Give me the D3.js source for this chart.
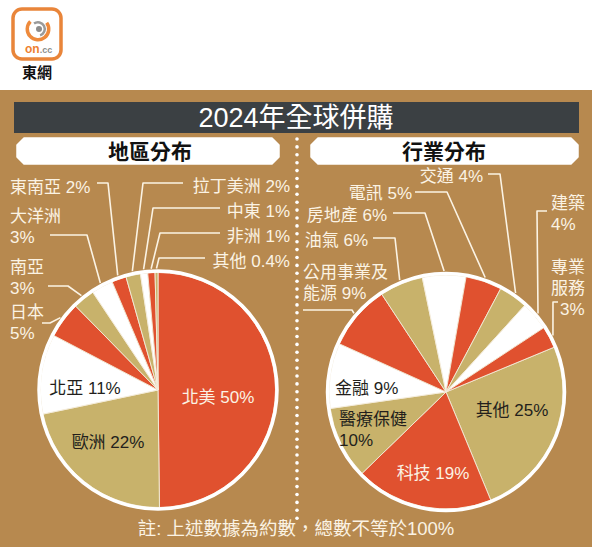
<!DOCTYPE html>
<html><head><meta charset="utf-8">
<script src="https://cdn.jsdelivr.net/npm/d3@7"></script>
<style>
html,body{margin:0;padding:0;background:#fff;}
svg{display:block;font-family:"Liberation Sans","Noto Sans CJK TC",sans-serif;}
</style></head>
<body>
<svg id="c" width="609" height="547"></svg>
<script>
// ---------------- data ----------------
const titleText = "2024年全球併購";
const leftTitle = "地區分布";
const rightTitle = "行業分布";
const noteText = "註: 上述數據為約數，總數不等於100%";

const regionCats = ["北美","歐洲","北亞","日本","南亞","大洋洲","東南亞","拉丁美洲","中東","非洲","其他"];
const regionVals = [50,22,11,5,3,3,2,2,1,1,0.4];

const sectorCats = ["其他","科技","醫療保健","金融","公用事業及能源","油氣","房地產","電訊","交通","建築","專業服務"];
const sectorVals = [25,19,10,9,9,6,6,5,4,4,3];

// ---------------- styles ----------------
const RED = "#E0512F", TAN = "#C8B26B", WHITE = "#FFFFFF";
const BG = "#B7894F", BAR = "#3B4043", CREAM = "#FBF3E4", DARK = "#231F1C";
const regionColors = [RED,TAN,WHITE,RED,TAN,WHITE,RED,TAN,WHITE,RED,TAN];
const sectorColors = [TAN,RED,TAN,WHITE,RED,TAN,WHITE,RED,TAN,WHITE,RED];

// ---------------- layout ----------------
const L = {cx:158, cy:390, r:117.5, start:0};
const R = {cx:446, cy:392, r:117, start:3*Math.PI/8};

// inside labels: [index, x, y, anchor, fill, lines]
const regionInside = [
  {i:0, x:218, y:397, anchor:"middle", fill:CREAM, lines:(n,v)=>[n+" "+v+"%"]},
  {i:1, x:108, y:442, anchor:"middle", fill:DARK, lines:(n,v)=>[n+" "+v+"%"]},
  {i:2, x:85,  y:388, anchor:"middle", fill:DARK, lines:(n,v)=>[n+" "+v+"%"]}
];
const sectorInside = [
  {i:0, x:512, y:410, anchor:"middle", fill:DARK, lines:(n,v)=>[n+" "+v+"%"]},
  {i:1, x:433, y:473, anchor:"middle", fill:CREAM, lines:(n,v)=>[n+" "+v+"%"]},
  {i:2, x:339, y:419, anchor:"start", fill:DARK, lines:(n,v)=>[n, v+"%"]},
  {i:3, x:335, y:388, anchor:"start", fill:DARK, lines:(n,v)=>[n+" "+v+"%"]}
];
// outside labels: text pos (center y of first line), leader start, elbow x
const regionOutside = [
  {i:3,  x:10,  y:312, anchor:"start", lines:(n,v)=>[n, v+"%"], lx:42,  ly:323, ex:50},
  {i:4,  x:10,  y:267, anchor:"start", lines:(n,v)=>[n, v+"%"], lx:48,  ly:286, ex:68},
  {i:5,  x:10,  y:216, anchor:"start", lines:(n,v)=>[n, v+"%"], lx:50,  ly:235, ex:87},
  {i:6,  x:10,  y:187, anchor:"start", lines:(n,v)=>[n+" "+v+"%"], lx:97, ly:183, ex:108},
  {i:7,  x:290, y:186, anchor:"end",   lines:(n,v)=>[n+" "+v+"%"], lx:183, ly:183, ex:143},
  {i:8,  x:290, y:211, anchor:"end",   lines:(n,v)=>[n+" "+v+"%"], lx:220, ly:208, ex:153},
  {i:9,  x:290, y:236, anchor:"end",   lines:(n,v)=>[n+" "+v+"%"], lx:220, ly:233, ex:160},
  {i:10, x:290, y:261, anchor:"end",   lines:(n,v)=>[n+" "+v+"%"], lx:205, ly:258, ex:159}
];
const sectorOutside = [
  {i:4,  x:303, y:272, anchor:"start", lines:(n,v)=>[n.slice(0,5), n.slice(5)+" "+v+"%"], lx:303, ly:310, ex:352},
  {i:5,  x:368, y:240, anchor:"end", lines:(n,v)=>[n+" "+v+"%"], lx:373, ly:238, ex:395},
  {i:6,  x:387, y:215, anchor:"end", lines:(n,v)=>[n+" "+v+"%"], lx:393, ly:213, ex:425},
  {i:7,  x:412, y:193, anchor:"end", lines:(n,v)=>[n+" "+v+"%"], lx:415, ly:192, ex:447},
  {i:8,  x:483, y:176, anchor:"end", lines:(n,v)=>[n+" "+v+"%"], lx:488, ly:174, ex:500},
  {i:9,  x:551, y:203, anchor:"start", lines:(n,v)=>[n, v+"%"], lx:547, ly:211, ex:537},
  {i:10, x:551, y:267, anchor:"start", lines:(n,v)=>[n.slice(0,2), n.slice(2), v+"%"], dx:[0,0,9], lx:558, ly:302, ex:553}
];

const svg = d3.select("#c");

// ---------------- logo ----------------
const logo = svg.append("g");
logo.append("rect").attr("x",13).attr("y",9).attr("width",48).attr("height",50).attr("rx",9)
  .attr("fill","#fff").attr("stroke","#E9853A").attr("stroke-width",3.5);
const lc = {x:38, y:29};
const logoArc = d3.arc();
logo.append("path").attr("transform",`translate(${lc.x},${lc.y})`)
  .attr("d", logoArc({innerRadius:9, outerRadius:12.5, startAngle:0.3*Math.PI, endAngle:1.75*Math.PI}))
  .attr("fill","#EE8A3C");
logo.append("path").attr("transform",`translate(${lc.x},${lc.y})`)
  .attr("d", logoArc({innerRadius:5.5, outerRadius:8, startAngle:-0.2*Math.PI, endAngle:0.9*Math.PI}))
  .attr("fill","#9A9A9A");
logo.append("circle").attr("cx",lc.x+1).attr("cy",lc.y).attr("r",3).attr("fill","#8C8C8C");
logo.append("text").attr("x",25).attr("y",53).attr("font-size",12).attr("font-weight","bold")
  .attr("font-family","Liberation Sans")
  .html('<tspan fill="#EE7F30">on</tspan><tspan fill="#8C8C8C" font-size="9">.cc</tspan>');
logo.append("text").attr("x",37).attr("y",78).attr("text-anchor","middle").attr("font-size",15)
  .attr("font-weight","bold").attr("fill","#111").attr("font-family","Noto Sans CJK TC").text("東網");

// ---------------- panel ----------------
svg.append("rect").attr("x",0).attr("y",90).attr("width",592).attr("height",457).attr("fill",BG);
svg.append("rect").attr("x",14).attr("y",102).attr("width",565).attr("height",31).attr("fill",BAR);
svg.append("text").attr("x",296).attr("y",127).attr("text-anchor","middle").attr("font-size",27)
  .attr("fill","#fff").text(titleText);

function pill(x0,x1,y0,y1){
  const c = 7;
  return `M${x0+c},${y0}L${x1-c},${y0}L${x1},${y0+c}L${x1},${y1-c}L${x1-c},${y1}L${x0+c},${y1}L${x0},${y1-c}L${x0},${y0+c}Z`;
}
svg.append("path").attr("d",pill(17,279,138,164)).attr("fill","#fff").attr("stroke","#fff").attr("stroke-width",1.5).attr("stroke-linejoin","round");
svg.append("path").attr("d",pill(311,578,138,164)).attr("fill","#fff").attr("stroke","#fff").attr("stroke-width",1.5).attr("stroke-linejoin","round");
svg.append("text").attr("x",150).attr("y",159).attr("text-anchor","middle").attr("font-size",21).attr("font-weight","bold").attr("fill","#111").text(leftTitle);
svg.append("text").attr("x",444).attr("y",159).attr("text-anchor","middle").attr("font-size",21).attr("font-weight","bold").attr("fill","#111").text(rightTitle);

// dotted divider
svg.append("g").selectAll("circle").data(d3.range(139, 522, 7.9)).join("circle")
  .attr("cx",297).attr("cy",d=>d).attr("r",1.8).attr("fill","#fff");

// ---------------- pies ----------------
function drawPie(P, cats, vals, colors, inside, outside){
  const data = cats.map((c,i)=>({name:c, value:vals[i]}));
  const arcs = d3.pie().sort(null).value(d=>d.value)
    .startAngle(P.start).endAngle(P.start+2*Math.PI)(data);
  const g = svg.append("g").attr("transform",`translate(${P.cx},${P.cy})`);
  const arc = d3.arc().innerRadius(0).outerRadius(P.r);
  g.selectAll("path.s").data(arcs).join("path").attr("class","s")
    .attr("d",arc).attr("fill",(d,i)=>colors[i])
    .attr("stroke","#F4ECDA").attr("stroke-width",0.9).attr("stroke-linejoin","round");
  g.append("circle").attr("r",P.r+1.5).attr("fill","none").attr("stroke","#fff").attr("stroke-width",3.5);

  const tip = d3.arc().innerRadius(P.r+4).outerRadius(P.r+4);
  // leaders
  outside.forEach(o=>{
    const p = tip.centroid(arcs[o.i]);
    const ex = p[0]+P.cx, ey = p[1]+P.cy;
    svg.append("path")
      .attr("d",`M${o.lx},${o.ly}L${o.ex},${o.ly}L${ex},${ey}`)
      .attr("fill","none").attr("stroke",CREAM).attr("stroke-width",1.6).attr("stroke-linejoin","round");
  });
  const fs = 17, lh = 21;
  function label(o, fill){
    const d = arcs[o.i].data;
    const lines = o.lines(d.name, d.value);
    const t = svg.append("text").attr("font-size",fs).attr("fill",fill).attr("text-anchor",o.anchor);
    lines.forEach((s,k)=>{
      t.append("tspan").attr("x",o.x + (o.dx ? o.dx[k] : 0)).attr("y",o.y + k*lh + 6).text(s);
    });
  }
  outside.forEach(o=>label(o, CREAM));
  inside.forEach(o=>label(o, o.fill));
}
drawPie(L, regionCats, regionVals, regionColors, regionInside, regionOutside);
drawPie(R, sectorCats, sectorVals, sectorColors, sectorInside, sectorOutside);

// note
svg.append("text").attr("x",296).attr("y",535).attr("text-anchor","middle").attr("font-size",18.5)
  .attr("fill",CREAM).text(noteText);
</script>
</body></html>
